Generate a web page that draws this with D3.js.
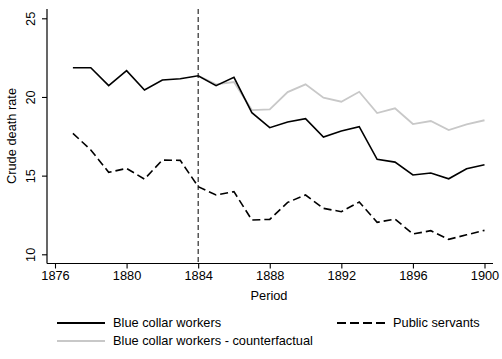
<!DOCTYPE html>
<html><head><meta charset="utf-8">
<script src="https://cdn.jsdelivr.net/npm/d3@7"></script>
<style>body{margin:0;background:#fff}svg{display:block}text{font-family:"Liberation Sans",Arial,sans-serif;fill:#000}</style>
</head><body><svg id="c" width="502" height="359"></svg>
<script>
const years = d3.range(1877, 1901);
const blueCollar = [21.86,21.86,20.72,21.67,20.44,21.08,21.16,21.35,20.72,21.25,19.0,18.05,18.41,18.62,17.45,17.84,18.11,16.04,15.86,15.04,15.17,14.8,15.44,15.69];
const cfYears = d3.range(1884, 1901);
const counterfactual = [21.35,20.8,20.95,19.17,19.21,20.31,20.8,19.95,19.7,20.33,18.98,19.28,18.28,18.47,17.9,18.26,18.52];
const publicServants = [17.69,16.63,15.21,15.46,14.78,15.99,15.97,14.3,13.77,13.98,12.18,12.22,13.3,13.77,12.92,12.71,13.32,12.03,12.24,11.29,11.5,10.95,11.24,11.52];
const xTicks = [1876,1880,1884,1888,1892,1896,1900];
const yTicks = [10,15,20,25];
const reformYear = 1884;

(function(){
const svg = d3.select("#c");
const x = d3.scaleLinear().domain([1876,1900]).range([55,484.5]);
const y = d3.scaleLinear().domain([10,25]).range([254.3,18.3]);
const pL = 47, pR = 493, pT = 9, pB = 263.5;
const fs = "12.8px";

svg.append("line").attr("x1",pL).attr("x2",pL).attr("y1",pT).attr("y2",pB).attr("stroke","#000").attr("stroke-width",1.2);
svg.append("line").attr("x1",pL).attr("x2",pR).attr("y1",pB).attr("y2",pB).attr("stroke","#000").attr("stroke-width",1.2);

const ya = svg.append("g").attr("transform",`translate(${pL},0)`)
  .call(d3.axisLeft(y).tickValues(yTicks).tickSize(5).tickFormat(d3.format("d")));
ya.select(".domain").remove();
ya.selectAll("line").attr("stroke","#000").attr("stroke-width",1.1);
ya.selectAll("text").attr("font-size",fs).attr("font-family","Liberation Sans, Arial")
  .attr("fill","#000").attr("x",0).attr("dy",0).attr("text-anchor","middle")
  .attr("transform","translate(-12,0) rotate(-90)");

const xa = svg.append("g").attr("transform",`translate(0,${pB})`)
  .call(d3.axisBottom(x).tickValues(xTicks).tickSize(5).tickFormat(d3.format("d")));
xa.select(".domain").remove();
xa.selectAll("line").attr("stroke","#000").attr("stroke-width",1.1);
xa.selectAll("text").attr("font-size",fs).attr("font-family","Liberation Sans, Arial").attr("fill","#000").attr("y",7).attr("dy","0.71em");

svg.append("text").attr("x",269).attr("y",299.5).attr("text-anchor","middle").attr("font-size",fs).text("Period");
svg.append("text").attr("transform","translate(16,136) rotate(-90)").attr("text-anchor","middle").attr("font-size",fs).text("Crude death rate");

svg.append("line").attr("x1",x(reformYear)).attr("x2",x(reformYear)).attr("y1",pT).attr("y2",pB)
  .attr("stroke","#000").attr("stroke-width",1).attr("stroke-dasharray","5,3");

const line = d3.line().x(d=>x(d[0])).y(d=>y(d[1]));
svg.append("path").datum(cfYears.map((yr,i)=>[yr,counterfactual[i]])).attr("d",line)
  .attr("fill","none").attr("stroke","#c8c8c8").attr("stroke-width",1.8);
svg.append("path").datum(years.map((yr,i)=>[yr,blueCollar[i]])).attr("d",line)
  .attr("fill","none").attr("stroke","#000").attr("stroke-width",1.6);
svg.append("path").datum(years.map((yr,i)=>[yr,publicServants[i]])).attr("d",line)
  .attr("fill","none").attr("stroke","#000").attr("stroke-width",1.6).attr("stroke-dasharray","8,4");

const legend = [
  {label:"Blue collar workers", color:"#000", dash:null, lx:57, ly:323},
  {label:"Public servants", color:"#000", dash:"9,4", lx:337, ly:323},
  {label:"Blue collar workers - counterfactual", color:"#c8c8c8", dash:null, lx:57, ly:341}
];
legend.forEach(l=>{
  svg.append("line").attr("x1",l.lx).attr("x2",l.lx+48).attr("y1",l.ly).attr("y2",l.ly)
    .attr("stroke",l.color).attr("stroke-width",1.8).attr("stroke-dasharray",l.dash);
  svg.append("text").attr("x",l.lx+56).attr("y",l.ly).attr("dy","0.35em").attr("font-size",fs).text(l.label);
});
})();
</script></body></html>
